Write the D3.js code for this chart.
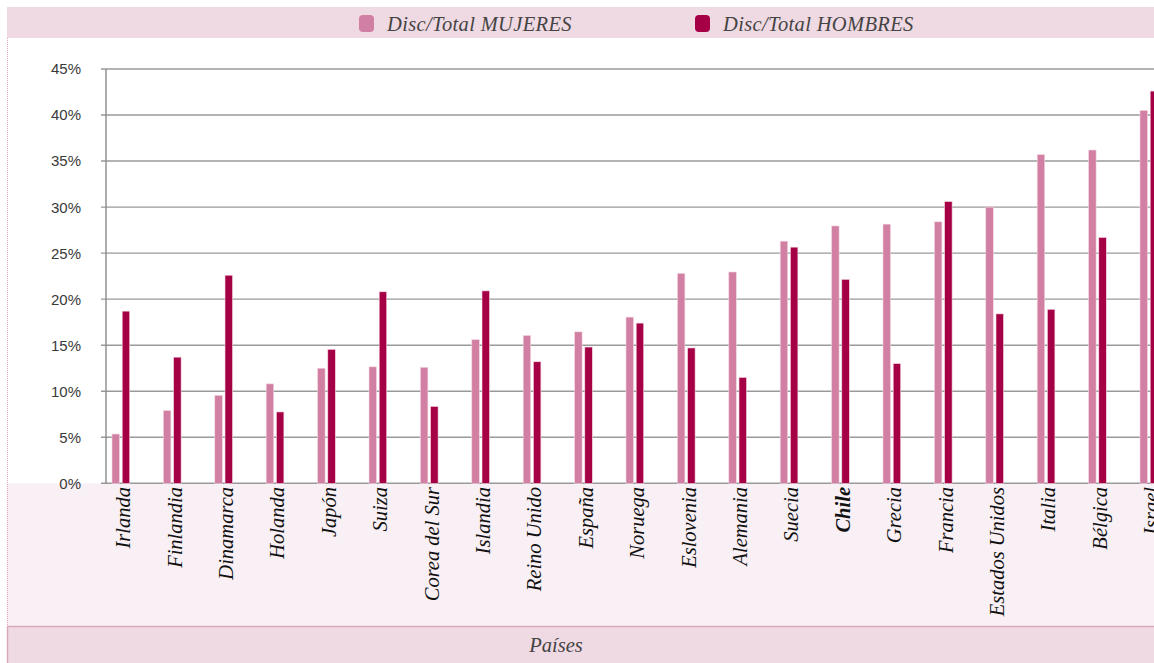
<!DOCTYPE html>
<html>
<head>
<meta charset="utf-8">
<script src="https://cdn.jsdelivr.net/npm/d3@7"></script>
<style>
  html, body { margin: 0; padding: 0; background: #fff; }
  svg { display: block; }
</style>
</head>
<body>
<svg id="chart" width="1154" height="663"></svg>
<script>
const svg = d3.select("#chart");
const width = 1154;
const height = 663;

// Data
const countries = ["Irlanda", "Finlandia", "Dinamarca", "Holanda", "Japón", "Suiza",
  "Corea del Sur", "Islandia", "Reino Unido", "España", "Noruega", "Eslovenia",
  "Alemania", "Suecia", "Chile", "Grecia", "Francia", "Estados Unidos", "Italia",
  "Bélgica", "Israel"];
const mujeres = [5.35, 7.9, 9.55, 10.8, 12.5, 12.65, 12.6, 15.6, 16.05, 16.45, 18.05, 22.8,
  22.95, 26.3, 27.95, 28.15, 28.4, 30.0, 35.7, 36.2, 40.5];
const hombres = [18.7, 13.7, 22.6, 7.75, 14.55, 20.8, 8.35, 20.9, 13.2, 14.8, 17.4, 14.7,
  11.5, 25.65, 22.15, 13.0, 30.6, 18.4, 18.9, 26.7, 42.6];
const seriesNames = ["Disc/Total MUJERES", "Disc/Total HOMBRES"];
const yTicks = [0, 5, 10, 15, 20, 25, 30, 35, 40, 45];

const colors = ["#d17fa3", "#a50046"];
const bandPink = "#efd9e2";
const lightPink = "#f9f0f5";
const edgePink = "#dca8be";

const plotLeft = 106;
const plotTop = 38;
const baseY = 483.3;
const bottomBandY = 626.5;

// Backgrounds
svg.append("rect")
  .attr("x", 7).attr("y", 7)
  .attr("width", width - 7).attr("height", plotTop - 7)
  .attr("fill", bandPink);

svg.append("rect")
  .attr("x", 7).attr("y", baseY)
  .attr("width", width - 7).attr("height", bottomBandY - baseY)
  .attr("fill", lightPink);

svg.append("rect")
  .attr("x", 7).attr("y", bottomBandY)
  .attr("width", width - 7).attr("height", height - bottomBandY)
  .attr("fill", bandPink);

svg.append("line")
  .attr("x1", 7).attr("x2", width)
  .attr("y1", bottomBandY).attr("y2", bottomBandY)
  .attr("stroke", edgePink).attr("stroke-width", 1.5);

svg.append("line")
  .attr("x1", 7.5).attr("x2", 7.5)
  .attr("y1", bottomBandY).attr("y2", height)
  .attr("stroke", edgePink).attr("stroke-width", 1.5);

svg.append("line")
  .attr("x1", 7.5).attr("x2", 7.5)
  .attr("y1", plotTop).attr("y2", bottomBandY)
  .attr("stroke", "#e6a9c0").attr("stroke-width", 1)
  .attr("stroke-dasharray", "1,1");

// Scales
const x = d3.scaleBand()
  .domain(countries)
  .range([95.3, 95.3 + 21 * 51.4]);

const xInner = d3.scaleBand()
  .domain([0, 1])
  .range([-9, 8.7])
  .paddingInner(0.265);

const y = d3.scaleLinear()
  .domain([0, 45])
  .range([baseY, 69]);

// Grid + y axis
const grid = svg.append("g").classed("grid", true);
grid.selectAll("line")
  .data(yTicks)
  .join("line")
  .attr("x1", plotLeft - 5)
  .attr("x2", width)
  .attr("y1", d => y(d))
  .attr("y2", d => y(d))
  .attr("stroke", "#9a9a9a")
  .attr("stroke-width", 1.4);

svg.append("line")
  .attr("x1", plotLeft).attr("x2", plotLeft)
  .attr("y1", y(45)).attr("y2", baseY)
  .attr("stroke", "#8a8a8a").attr("stroke-width", 1.4);

svg.append("g")
  .selectAll("text")
  .data(yTicks)
  .join("text")
  .attr("x", 81)
  .attr("y", d => y(d))
  .attr("dy", "0.36em")
  .attr("text-anchor", "end")
  .attr("font-family", "'Liberation Sans', Arial, sans-serif")
  .attr("font-size", 15)
  .attr("fill", "#3a3a3a")
  .text(d => d + "%");

// Bars
const rows = countries.map((c, i) => ({ country: c, values: [mujeres[i], hombres[i]] }));

const groups = svg.append("g")
  .selectAll("g")
  .data(rows)
  .join("g")
  .attr("transform", d => `translate(${x(d.country) + x.bandwidth() / 2},0)`);

groups.selectAll("rect")
  .data(d => d.values.map((v, k) => ({ k, v })))
  .join("rect")
  .attr("x", d => xInner(d.k))
  .attr("width", xInner.bandwidth())
  .attr("y", d => y(d.v))
  .attr("height", d => baseY - y(d.v))
  .attr("fill", d => colors[d.k])
  .attr("stroke", "#f4d6e2")
  .attr("stroke-width", 0.6);

// Category labels
svg.append("g")
  .selectAll("text")
  .data(countries)
  .join("text")
  .attr("transform", d => `translate(${x(d) + x.bandwidth() / 2 + 2},487) rotate(-90)`)
  .attr("text-anchor", "end")
  .attr("dy", "0.35em")
  .attr("font-family", "'Liberation Serif', 'Times New Roman', serif")
  .attr("font-style", "italic")
  .attr("font-weight", d => d === "Chile" ? "bold" : "normal")
  .attr("font-size", 20.5)
  .attr("fill", "#111")
  .text(d => d);

// Axis title
svg.append("text")
  .attr("x", 556)
  .attr("y", 645)
  .attr("dy", "0.35em")
  .attr("text-anchor", "middle")
  .attr("font-family", "'Liberation Serif', 'Times New Roman', serif")
  .attr("font-style", "italic")
  .attr("font-size", 20.5)
  .attr("fill", "#444")
  .text("Países");

// Legend
const legendX = [359, 695];
const legend = svg.append("g")
  .selectAll("g")
  .data(seriesNames)
  .join("g")
  .attr("transform", (d, i) => `translate(${legendX[i]},23)`);

legend.append("rect")
  .attr("x", 0).attr("y", -8)
  .attr("width", 15).attr("height", 17)
  .attr("rx", 4)
  .attr("fill", (d, i) => colors[i]);

legend.append("text")
  .attr("x", 28)
  .attr("y", 1)
  .attr("dy", "0.35em")
  .attr("font-family", "'Liberation Serif', 'Times New Roman', serif")
  .attr("font-style", "italic")
  .attr("font-size", 20.5)
  .attr("letter-spacing", 0.35)
  .attr("fill", "#444")
  .text(d => d);
</script>
</body>
</html>
